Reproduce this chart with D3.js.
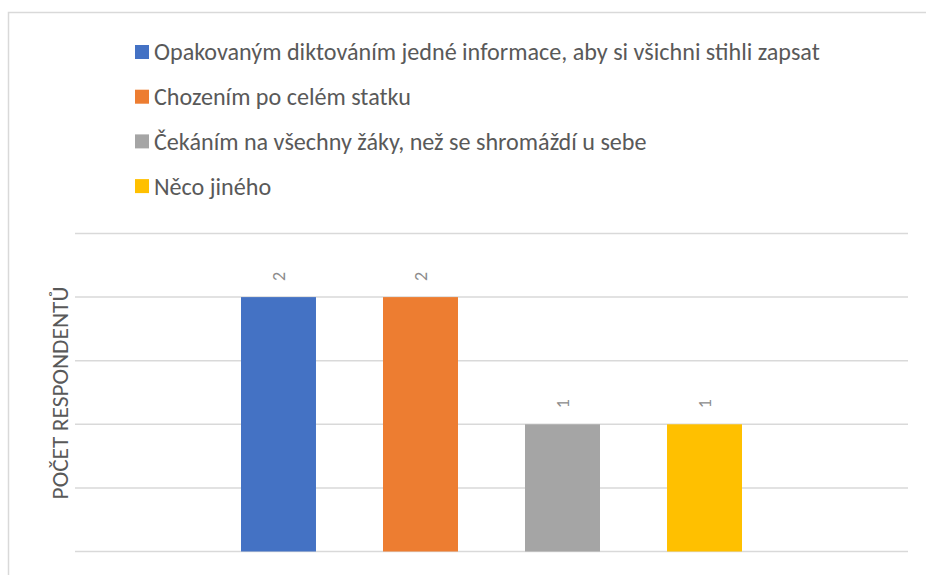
<!DOCTYPE html>
<html>
<head>
<meta charset="utf-8">
<script src="https://cdn.jsdelivr.net/npm/d3@7"></script>
<style>
  body { margin: 0; background: #fff; }
  svg { display: block; font-family: Calibri, Carlito, "Open Sans", "Noto Sans", sans-serif; }
</style>
</head>
<body>
<svg id="chart" width="926" height="575"></svg>
<script>
var series = [
  "Opakovaným diktováním jedné informace, aby si všichni stihli zapsat",
  "Chozením po celém statku",
  "Čekáním na všechny žáky, než se shromáždí u sebe",
  "Něco jiného"
];
var values = [2, 2, 1, 1];
var colors = ["#4472C4", "#ED7D31", "#A5A5A5", "#FFC000"];
var yTicks = [0, 0.5, 1, 1.5, 2, 2.5];
var yTitle = "POČET RESPONDENTŮ";

var svg = d3.select("#chart");

/// chart area border (top and left visible, rest cut off)
svg.append("rect")
    .attr("x", 8.5).attr("y", 12.5)
    .attr("width", 1000).attr("height", 1000)
    .attr("fill", "none")
    .attr("stroke", "#D9D9D9")
    .attr("stroke-width", 1.5);

var plot = {left: 75, right: 908, top: 233.5, bottom: 551.5};

var x = d3.scaleBand()
    .domain(series)
    .range([plot.left, plot.right])
    .paddingInner(0.472)
    .paddingOuter(1.169);

var y = d3.scaleLinear()
    .domain([0, 2.5])
    .range([plot.bottom, plot.top]);

/// gridlines
svg.append("g")
  .selectAll("line")
  .data(yTicks)
  .join("line")
    .attr("x1", plot.left)
    .attr("x2", plot.right)
    .attr("y1", function(d) { return y(d); })
    .attr("y2", function(d) { return y(d); })
    .attr("stroke", "#D9D9D9")
    .attr("stroke-width", 1.5);

/// bars
svg.append("g")
  .selectAll("rect")
  .data(values)
  .join("rect")
    .attr("x", function(d, i) { return x(series[i]); })
    .attr("y", function(d) { return y(d); })
    .attr("width", x.bandwidth())
    .attr("height", function(d) { return y(0) - y(d); })
    .attr("fill", function(d, i) { return colors[i]; });

/// rotated value labels
svg.append("g")
  .selectAll("text")
  .data(values)
  .join("text")
    .attr("transform", function(d, i) {
      return "translate(" + (x(series[i]) + x.bandwidth() / 2) + "," + (y(d) - 16) + ") rotate(-90)";
    })
    .attr("dy", "0.35em")
    .attr("text-anchor", "start")
    .attr("fill", "#8C8C8C")
    .attr("font-size", 18)
    .text(function(d) { return d; });

/// y axis title, fitted to the reference length (~213px)
var title = svg.append("text")
    .attr("transform", "translate(60,393) rotate(-90)")
    .attr("text-anchor", "middle")
    .attr("dy", "0.35em")
    .attr("fill", "#595959")
    .attr("font-size", 17)
    .text(yTitle);
var tw = title.node().getComputedTextLength();
title.attr("font-size", 17 * 213 / tw);

/// legend
var legend = svg.append("g")
  .selectAll("g")
  .data(series)
  .join("g")
    .attr("transform", function(d, i) { return "translate(135," + (52 + i * 44.7) + ")"; });

legend.append("rect")
    .attr("x", 0).attr("y", -7)
    .attr("width", 14).attr("height", 14)
    .attr("fill", function(d, i) { return colors[i]; });

var legendText = legend.append("text")
    .attr("x", 19)
    .attr("dy", "0.35em")
    .attr("fill", "#595959")
    .attr("font-size", 19)
    .text(function(d) { return d; });

/// fit legend font to the reference width of the first entry (~666px)
var w0 = legendText.node().getComputedTextLength();
legendText.attr("font-size", 19 * 666 / w0);
</script>
</body>
</html>
